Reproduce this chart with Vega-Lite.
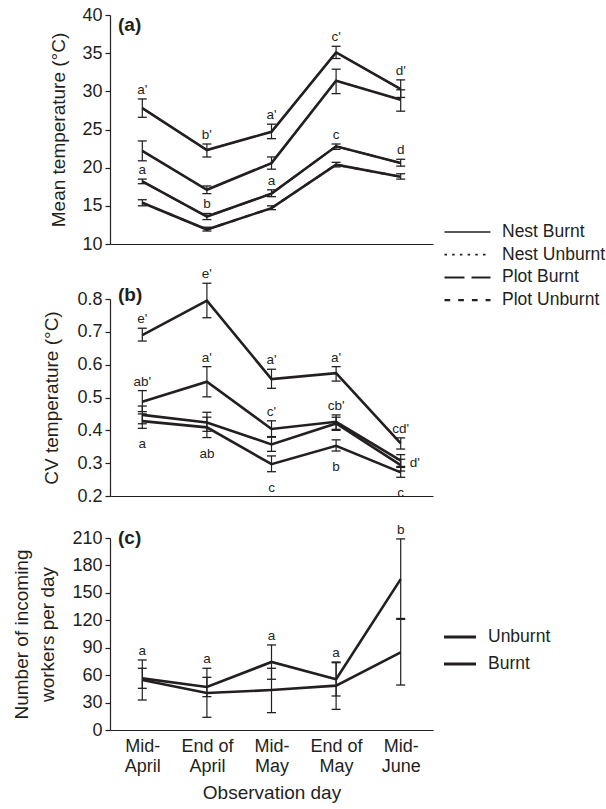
{
  "$schema": "https://vega.github.io/schema/vega-lite/v6.json",
  "padding": {"left": 12, "top": 6, "right": 5, "bottom": 5},
  "background": "white",
  "config": {
    "font": "Liberation Sans",
    "view": {"stroke": null},
    "axis": {
      "grid": false,
      "labelOverlap": false,
      "domainColor": "#231f20",
      "domainWidth": 1.2,
      "tickColor": "#231f20",
      "tickWidth": 1.2,
      "tickSize": 5,
      "labelFont": "Liberation Sans",
      "labelFontSize": 18,
      "labelColor": "#231f20",
      "labelPadding": 3,
      "titleFont": "Liberation Sans",
      "titleFontSize": 19,
      "titleFontWeight": "normal",
      "titleColor": "#231f20"
    },
    "legend": {"padding": 0, "labelFont": "Liberation Sans", "labelColor": "#231f20", "labelFontSize": 17.5},
    "title": {"font": "Liberation Sans", "fontSize": 19, "fontWeight": "bold", "color": "#231f20", "anchor": "start", "frame": "group", "baseline": "middle", "dx": 8}
  },
  "datasets": {
    "temp": [
      {"series": "Nest Burnt", "day": "Mid-April", "mean": 27.8, "lower": 26.6, "upper": 29.0, "label": "a'", "side": "above"},
      {"series": "Nest Burnt", "day": "End of April", "mean": 22.3, "lower": 21.4, "upper": 23.1, "label": "b'", "side": "above"},
      {"series": "Nest Burnt", "day": "Mid-May", "mean": 24.7, "lower": 23.8, "upper": 25.7, "label": "a'", "side": "above"},
      {"series": "Nest Burnt", "day": "End of May", "mean": 35.1, "lower": 34.3, "upper": 35.9, "label": "c'", "side": "above"},
      {"series": "Nest Burnt", "day": "Mid-June", "mean": 30.3, "lower": 29.2, "upper": 31.5, "label": "d'", "side": "above"},
      {"series": "Nest Unburnt", "day": "Mid-April", "mean": 22.2, "lower": 20.9, "upper": 23.5},
      {"series": "Nest Unburnt", "day": "End of April", "mean": 17.1, "lower": 16.6, "upper": 17.6},
      {"series": "Nest Unburnt", "day": "Mid-May", "mean": 20.6, "lower": 19.8, "upper": 21.4},
      {"series": "Nest Unburnt", "day": "End of May", "mean": 31.4, "lower": 29.7, "upper": 32.9},
      {"series": "Nest Unburnt", "day": "Mid-June", "mean": 28.9, "lower": 27.4, "upper": 30.2},
      {"series": "Plot Burnt", "day": "Mid-April", "mean": 18.2, "lower": 17.9, "upper": 18.5, "label": "a", "side": "above"},
      {"series": "Plot Burnt", "day": "End of April", "mean": 13.6, "lower": 13.2, "upper": 14.0, "label": "b", "side": "above"},
      {"series": "Plot Burnt", "day": "Mid-May", "mean": 16.6, "lower": 16.2, "upper": 17.1, "label": "a", "side": "above"},
      {"series": "Plot Burnt", "day": "End of May", "mean": 22.8, "lower": 22.4, "upper": 23.1, "label": "c", "side": "above"},
      {"series": "Plot Burnt", "day": "Mid-June", "mean": 20.6, "lower": 20.2, "upper": 21.1, "label": "d", "side": "above"},
      {"series": "Plot Unburnt", "day": "Mid-April", "mean": 15.4, "lower": 15.0, "upper": 15.8},
      {"series": "Plot Unburnt", "day": "End of April", "mean": 11.9, "lower": 11.7, "upper": 12.2},
      {"series": "Plot Unburnt", "day": "Mid-May", "mean": 14.7, "lower": 14.5, "upper": 15.0},
      {"series": "Plot Unburnt", "day": "End of May", "mean": 20.4, "lower": 20.1, "upper": 20.7},
      {"series": "Plot Unburnt", "day": "Mid-June", "mean": 18.8, "lower": 18.5, "upper": 19.2}
    ],
    "cv": [
      {"series": "Nest Burnt", "day": "Mid-April", "mean": 0.690, "lower": 0.672, "upper": 0.711, "label": "e'", "side": "above"},
      {"series": "Nest Burnt", "day": "End of April", "mean": 0.795, "lower": 0.743, "upper": 0.848, "label": "e'", "side": "above"},
      {"series": "Nest Burnt", "day": "Mid-May", "mean": 0.556, "lower": 0.528, "upper": 0.586, "label": "a'", "side": "above"},
      {"series": "Nest Burnt", "day": "End of May", "mean": 0.574, "lower": 0.550, "upper": 0.594, "label": "a'", "side": "above"},
      {"series": "Nest Burnt", "day": "Mid-June", "mean": 0.360, "lower": 0.343, "upper": 0.377, "label": "cd'", "side": "above"},
      {"series": "Nest Unburnt", "day": "Mid-April", "mean": 0.487, "lower": 0.457, "upper": 0.521, "label": "ab'", "side": "above"},
      {"series": "Nest Unburnt", "day": "End of April", "mean": 0.548, "lower": 0.502, "upper": 0.594, "label": "a'", "side": "above"},
      {"series": "Nest Unburnt", "day": "Mid-May", "mean": 0.404, "lower": 0.381, "upper": 0.429, "label": "c'", "side": "above"},
      {"series": "Nest Unburnt", "day": "End of May", "mean": 0.426, "lower": 0.403, "upper": 0.447, "label": "cb'", "side": "above"},
      {"series": "Nest Unburnt", "day": "Mid-June", "mean": 0.308, "lower": 0.290, "upper": 0.326, "label": "d'", "side": "right"},
      {"series": "Plot Burnt", "day": "Mid-April", "mean": 0.447, "lower": 0.420, "upper": 0.474},
      {"series": "Plot Burnt", "day": "End of April", "mean": 0.424, "lower": 0.397, "upper": 0.455},
      {"series": "Plot Burnt", "day": "Mid-May", "mean": 0.357, "lower": 0.336, "upper": 0.379},
      {"series": "Plot Burnt", "day": "End of May", "mean": 0.421, "lower": 0.400, "upper": 0.440},
      {"series": "Plot Burnt", "day": "Mid-June", "mean": 0.294, "lower": 0.276, "upper": 0.312},
      {"series": "Plot Unburnt", "day": "Mid-April", "mean": 0.428, "lower": 0.406, "upper": 0.450, "label": "a", "side": "below"},
      {"series": "Plot Unburnt", "day": "End of April", "mean": 0.409, "lower": 0.378, "upper": 0.440, "label": "ab", "side": "below"},
      {"series": "Plot Unburnt", "day": "Mid-May", "mean": 0.297, "lower": 0.274, "upper": 0.322, "label": "c", "side": "below"},
      {"series": "Plot Unburnt", "day": "End of May", "mean": 0.353, "lower": 0.337, "upper": 0.371, "label": "b", "side": "below"},
      {"series": "Plot Unburnt", "day": "Mid-June", "mean": 0.272, "lower": 0.257, "upper": 0.287, "label": "c", "side": "below"}
    ],
    "workers": [
      {"series": "Unburnt", "day": "Mid-April", "mean": 56.5, "lower": 45.6, "upper": 67.5},
      {"series": "Unburnt", "day": "End of April", "mean": 47.0, "lower": 36.5, "upper": 57.6},
      {"series": "Unburnt", "day": "Mid-May", "mean": 74.4, "lower": 55.5, "upper": 93.0, "label": "a", "side": "above"},
      {"series": "Unburnt", "day": "End of May", "mean": 55.5, "lower": 37.2, "upper": 73.6},
      {"series": "Unburnt", "day": "Mid-June", "mean": 165.0, "lower": 122.0, "upper": 209.0, "label": "b", "side": "above"},
      {"series": "Burnt", "day": "Mid-April", "mean": 54.7, "lower": 32.8, "upper": 76.6, "label": "a", "side": "above"},
      {"series": "Burnt", "day": "End of April", "mean": 40.4, "lower": 13.9, "upper": 67.5, "label": "a", "side": "above"},
      {"series": "Burnt", "day": "Mid-May", "mean": 43.7, "lower": 19.0, "upper": 67.5},
      {"series": "Burnt", "day": "End of May", "mean": 48.5, "lower": 22.6, "upper": 74.4, "label": "a", "side": "above"},
      {"series": "Burnt", "day": "Mid-June", "mean": 85.0, "lower": 49.2, "upper": 121.0}
    ]
  },
  "bounds": "flush",
  "spacing": 55,
  "vconcat": [
    {
      "width": 323,
      "height": 229,
      "title": {"text": "(a)", "offset": -29},
      "data": {"name": "temp"},
      "encoding": {
        "x": {"field": "day", "type": "nominal", "sort": ["Mid-April", "End of April", "Mid-May", "End of May", "Mid-June"], "scale": {"type": "point", "padding": 0.5}, "axis": {"title": null, "labels": false, "ticks": false}}
      },
      "layer": [
        {
          "mark": {"type": "line", "color": "#231f20"},
          "encoding": {
            "y": {"field": "mean", "type": "quantitative", "scale": {"domain": [10, 40], "nice": false}, "axis": {"title": "Mean temperature (°C)", "values": [10, 15, 20, 25, 30, 35, 40], "tickCount": 7, "titlePadding": 13}},
            "strokeDash": {"field": "series", "type": "nominal", "scale": {"domain": ["Nest Burnt", "Nest Unburnt", "Plot Burnt", "Plot Unburnt"], "range": [[1, 0], [2.5, 5.2], [20, 7], [5.7, 8]]},
              "legend": {"title": null, "orient": "none", "legendX": 333, "legendY": 207, "symbolType": "stroke", "symbolSize": 2116, "symbolStrokeColor": "#231f20", "labelOffset": 10, "clipHeight": 20, "rowPadding": 2.7}},
            "strokeWidth": {"field": "series", "type": "nominal", "scale": {"domain": ["Nest Burnt", "Nest Unburnt", "Plot Burnt", "Plot Unburnt"], "range": [1.5, 2.2, 2.6, 2.4]},
              "legend": {"title": null, "orient": "none", "legendX": 333, "legendY": 207, "symbolType": "stroke", "symbolSize": 2116, "symbolStrokeColor": "#231f20", "labelOffset": 10, "clipHeight": 20, "rowPadding": 2.7}}
          }
        },
        {
          "mark": {"type": "line", "strokeWidth": 2.6, "color": "#231f20"},
          "encoding": {"y": {"field": "mean", "type": "quantitative", "scale": {"domain": [10, 40], "nice": false}, "axis": {"title": "Mean temperature (°C)", "values": [10, 15, 20, 25, 30, 35, 40], "tickCount": 7, "titlePadding": 13}}, "detail": {"field": "series"}}
        },
        {
          "mark": {"type": "rule", "strokeWidth": 1.2, "color": "#231f20"},
          "encoding": {"y": {"field": "lower", "type": "quantitative", "scale": {"domain": [10, 40], "nice": false}}, "y2": {"field": "upper"}}
        },
        {
          "mark": {"type": "tick", "size": 9, "thickness": 1.3, "color": "#231f20", "opacity": 1},
          "encoding": {"y": {"field": "lower", "type": "quantitative", "scale": {"domain": [10, 40], "nice": false}}}
        },
        {
          "mark": {"type": "tick", "size": 9, "thickness": 1.3, "color": "#231f20", "opacity": 1},
          "encoding": {"y": {"field": "upper", "type": "quantitative", "scale": {"domain": [10, 40], "nice": false}}}
        },
        {
          "transform": [{"filter": "datum.side == 'above'"}],
          "mark": {"type": "text", "fontSize": 13.5, "dy": -5, "baseline": "alphabetic", "color": "#231f20"},
          "encoding": {"y": {"field": "upper", "type": "quantitative", "scale": {"domain": [10, 40], "nice": false}}, "text": {"field": "label"}}
        }
      ]
    },
    {
      "bounds": "flush",
      "spacing": 42,
      "vconcat": [
        {
          "width": 323,
          "height": 197,
          "title": {"text": "(b)", "offset": -38},
          "data": {"name": "cv"},
          "encoding": {
            "x": {"field": "day", "type": "nominal", "sort": ["Mid-April", "End of April", "Mid-May", "End of May", "Mid-June"], "scale": {"type": "point", "padding": 0.5}, "axis": {"title": null, "labels": false, "ticks": false}}
          },
          "layer": [
            {
              "mark": {"type": "line", "strokeWidth": 2.6, "color": "#231f20"},
              "encoding": {
                "y": {"field": "mean", "type": "quantitative", "scale": {"domain": [0.2, 0.8], "nice": false, "zero": false}, "axis": {"title": "CV temperature (°C)", "values": [0.2, 0.3, 0.4, 0.5, 0.6, 0.7, 0.8], "tickCount": 7, "format": ".1f", "titlePadding": 15}},
                "detail": {"field": "series"}
              }
            },
            {
              "mark": {"type": "rule", "strokeWidth": 1.2, "color": "#231f20"},
              "encoding": {"y": {"field": "lower", "type": "quantitative", "scale": {"domain": [0.2, 0.8], "nice": false, "zero": false}}, "y2": {"field": "upper"}}
            },
            {
              "mark": {"type": "tick", "size": 9, "thickness": 1.3, "color": "#231f20", "opacity": 1},
              "encoding": {"y": {"field": "lower", "type": "quantitative", "scale": {"domain": [0.2, 0.8], "nice": false, "zero": false}}}
            },
            {
              "mark": {"type": "tick", "size": 9, "thickness": 1.3, "color": "#231f20", "opacity": 1},
              "encoding": {"y": {"field": "upper", "type": "quantitative", "scale": {"domain": [0.2, 0.8], "nice": false, "zero": false}}}
            },
            {
              "transform": [{"filter": "datum.side == 'above'"}],
              "mark": {"type": "text", "fontSize": 13.5, "dy": -5, "baseline": "alphabetic", "color": "#231f20"},
              "encoding": {"y": {"field": "upper", "type": "quantitative", "scale": {"domain": [0.2, 0.8], "nice": false, "zero": false}}, "text": {"field": "label"}}
            },
            {
              "transform": [{"filter": "datum.side == 'below'"}],
              "mark": {"type": "text", "fontSize": 13.5, "dy": 20, "baseline": "alphabetic", "color": "#231f20"},
              "encoding": {"y": {"field": "lower", "type": "quantitative", "scale": {"domain": [0.2, 0.8], "nice": false, "zero": false}}, "text": {"field": "label"}}
            },
            {
              "transform": [{"filter": "datum.side == 'right'"}],
              "mark": {"type": "text", "fontSize": 13.5, "dx": 14, "dy": 2, "baseline": "middle", "color": "#231f20"},
              "encoding": {"y": {"field": "mean", "type": "quantitative", "scale": {"domain": [0.2, 0.8], "nice": false, "zero": false}}, "text": {"field": "label"}}
            }
          ]
        },
        {
          "width": 323,
          "height": 192,
          "title": {"text": "(c)", "offset": -25},
          "data": {"name": "workers"},
          "encoding": {
            "x": {"field": "day", "type": "nominal", "sort": ["Mid-April", "End of April", "Mid-May", "End of May", "Mid-June"], "scale": {"type": "point", "padding": 0.5},
              "axis": {"title": "Observation day", "ticks": false, "labelAngle": 0, "labelPadding": 7, "labelLineHeight": 20, "labelBaseline": "top", "titlePadding": 8,
                "labelExpr": "indexof(datum.value, 'Mid-') == 0 ? ['Mid-', substring(datum.value, 4)] : ['End of', substring(datum.value, 7)]"}}
          },
          "layer": [
            {
              "mark": {"type": "line", "strokeWidth": 2.6},
              "encoding": {
                "y": {"field": "mean", "type": "quantitative", "scale": {"domain": [0, 210], "nice": false}, "axis": {"title": ["Number of incoming", "workers per day"], "values": [0, 30, 60, 90, 120, 150, 180, 210], "tickCount": 8, "titlePadding": 14, "titleLineHeight": 26}},
                "color": {"field": "series", "type": "nominal", "scale": {"domain": ["Unburnt", "Burnt"], "range": ["#231f20", "#231f20"]},
                  "legend": {"title": null, "orient": "none", "legendX": 332, "legendY": 610, "symbolType": "stroke", "symbolSize": 1024, "symbolStrokeWidth": 3.2, "labelOffset": 10, "clipHeight": 24, "rowPadding": 3}}
              }
            },
            {
              "mark": {"type": "rule", "strokeWidth": 1.2, "color": "#231f20"},
              "encoding": {"y": {"field": "lower", "type": "quantitative", "scale": {"domain": [0, 210], "nice": false}}, "y2": {"field": "upper"}}
            },
            {
              "mark": {"type": "tick", "size": 9, "thickness": 1.3, "color": "#231f20", "opacity": 1},
              "encoding": {"y": {"field": "lower", "type": "quantitative", "scale": {"domain": [0, 210], "nice": false}}}
            },
            {
              "mark": {"type": "tick", "size": 9, "thickness": 1.3, "color": "#231f20", "opacity": 1},
              "encoding": {"y": {"field": "upper", "type": "quantitative", "scale": {"domain": [0, 210], "nice": false}}}
            },
            {
              "transform": [{"filter": "datum.side == 'above'"}],
              "mark": {"type": "text", "fontSize": 13.5, "dy": -5, "baseline": "alphabetic", "color": "#231f20"},
              "encoding": {"y": {"field": "upper", "type": "quantitative", "scale": {"domain": [0, 210], "nice": false}}, "text": {"field": "label"}}
            }
          ]
        }
      ]
    }
  ]
}
